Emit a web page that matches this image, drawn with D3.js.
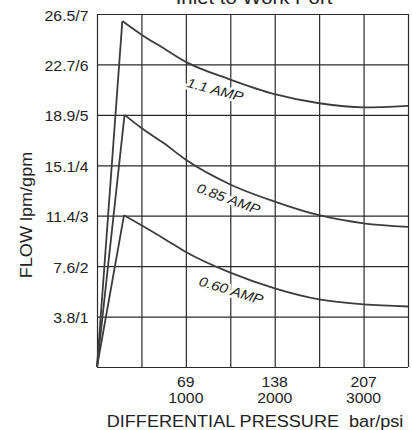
<!DOCTYPE html>
<html>
<head>
<meta charset="utf-8">
<script src="https://cdn.jsdelivr.net/npm/d3@7"></script>
<style>
  body { margin: 0; background: #fff; }
  text { font-family: "Liberation Sans", Arial, sans-serif; fill: #222; }
</style>
</head>
<body>
<div id="chart"></div>
<script>
// values: flow in gpm against differential pressure in psi
var gridPsi   = [0, 500, 1000, 1500, 2000, 2500, 3000, 3500];
var tickPsi   = [1000, 2000, 3000];
var tickBar   = ["69", "138", "207"];
var gridGpm   = [0, 1, 2, 3, 4, 5, 6, 7];
var tickGpm   = [1, 2, 3, 4, 5, 6, 7];
var tickLpm   = ["3.8/1", "7.6/2", "11.4/3", "15.1/4", "18.9/5", "22.7/6", "26.5/7"];

var psi11  = [0, 285, 500, 750, 1000, 1500, 2000, 2500, 3000, 3500];
var gpm11  = [0, 6.86, 6.59, 6.32, 6.05, 5.70, 5.41, 5.23, 5.15, 5.18];
var psi085 = [0, 310, 500, 750, 1000, 1500, 2000, 2500, 3000, 3500];
var gpm085 = [0, 5.00, 4.74, 4.44, 4.11, 3.62, 3.28, 3.01, 2.85, 2.78];
var psi060 = [0, 304, 500, 750, 1000, 1500, 2000, 2500, 3000, 3500];
var gpm060 = [0, 3.01, 2.81, 2.55, 2.28, 1.87, 1.56, 1.34, 1.24, 1.20];

var curveNames = ["1.1 AMP", "0.85 AMP", "0.60 AMP"];
var labelPsi   = [1330, 1480, 1510];
var labelGpm   = [5.50, 3.34, 1.52];
var labelAngle = [15, 20, 17];

var w = 412, h = 430;
var sx = 1.13; // the type in the picture is a bit wider than Arial

var svg = d3.select("#chart").append("svg")
  .attr("width", w)
  .attr("height", h);

var x = d3.scaleLinear().domain([0, 3500]).range([97, 408]);
var y = d3.scaleLinear().domain([0, 7]).range([367, 14]);

function label(sel, px, py, rot, anchor) {
  return sel.append("text")
    .attr("transform", "translate(" + px + "," + py + ") rotate(" + rot + ") scale(" + sx + ",1)")
    .attr("text-anchor", anchor || "middle");
}

// grid drawn with the library's axes, ticks stretched across the plot
var xGrid = d3.axisBottom(x).tickValues(gridPsi).tickSize(-(y(0) - y(7))).tickFormat("");
var yGrid = d3.axisLeft(y).tickValues(gridGpm).tickSize(-(x(3500) - x(0))).tickFormat("");

var gx = svg.append("g").attr("transform", "translate(0," + y(0) + ")").call(xGrid);
var gy = svg.append("g").attr("transform", "translate(" + x(0) + ",0)").call(yGrid);
[gx, gy].forEach(function(g) {
  g.select(".domain").remove();
  g.selectAll(".tick line").attr("stroke", "#2a2a2a").attr("stroke-width", 1.2);
});

// curves: straight rise to the peak, then a smooth fall
var rise = d3.line()
  .x(function(d) { return x(d[0]); })
  .y(function(d) { return y(d[1]); });
var fall = d3.line()
  .curve(d3.curveMonotoneX)
  .x(function(d) { return x(d[0]); })
  .y(function(d) { return y(d[1]); });

[[psi11, gpm11], [psi085, gpm085], [psi060, gpm060]].forEach(function(s) {
  var pts = d3.zip(s[0], s[1]);
  svg.append("path").attr("d", rise(pts.slice(0, 2)))
    .attr("fill", "none").attr("stroke", "#3c3c3c").attr("stroke-width", 1.8);
  svg.append("path").attr("d", fall(pts.slice(1)))
    .attr("fill", "none").attr("stroke", "#3c3c3c").attr("stroke-width", 1.8);
});

// curve names, with a white halo that breaks the grid
curveNames.forEach(function(n, i) {
  label(svg, x(labelPsi[i]), y(labelGpm[i]), labelAngle[i])
    .attr("dy", "0.35em")
    .style("font-size", "13.5px")
    .style("font-style", "italic")
    .style("stroke", "#fff").style("stroke-width", 5)
    .style("paint-order", "stroke")
    .style("stroke-linejoin", "round")
    .text(n);
});

// y ticks
tickGpm.forEach(function(g, i) {
  label(svg, 88.5, y(g) + 6.5, 0, "end")
    .style("font-size", "14px")
    .text(tickLpm[i]);
});

// x ticks
tickPsi.forEach(function(p, i) {
  label(svg, x(p), 387, 0).style("font-size", "14px").text(tickBar[i]);
  label(svg, x(p), 403, 0).style("font-size", "14px").text(p);
});

// axis titles
label(svg, 255, 426.5, 0)
  .style("font-size", "16px")
  .style("white-space", "pre")
  .text("DIFFERENTIAL PRESSURE  bar/psi");

svg.append("text")
  .attr("transform", "translate(32,215) rotate(-90) scale(" + sx + ",1)")
  .attr("text-anchor", "middle")
  .style("font-size", "16px")
  .text("FLOW lpm/gpm");

// title, cut by the top edge as in the original
label(svg, 254, 4, 0)
  .style("font-size", "18px")
  .text("Inlet to Work Port");
</script>
</body>
</html>
